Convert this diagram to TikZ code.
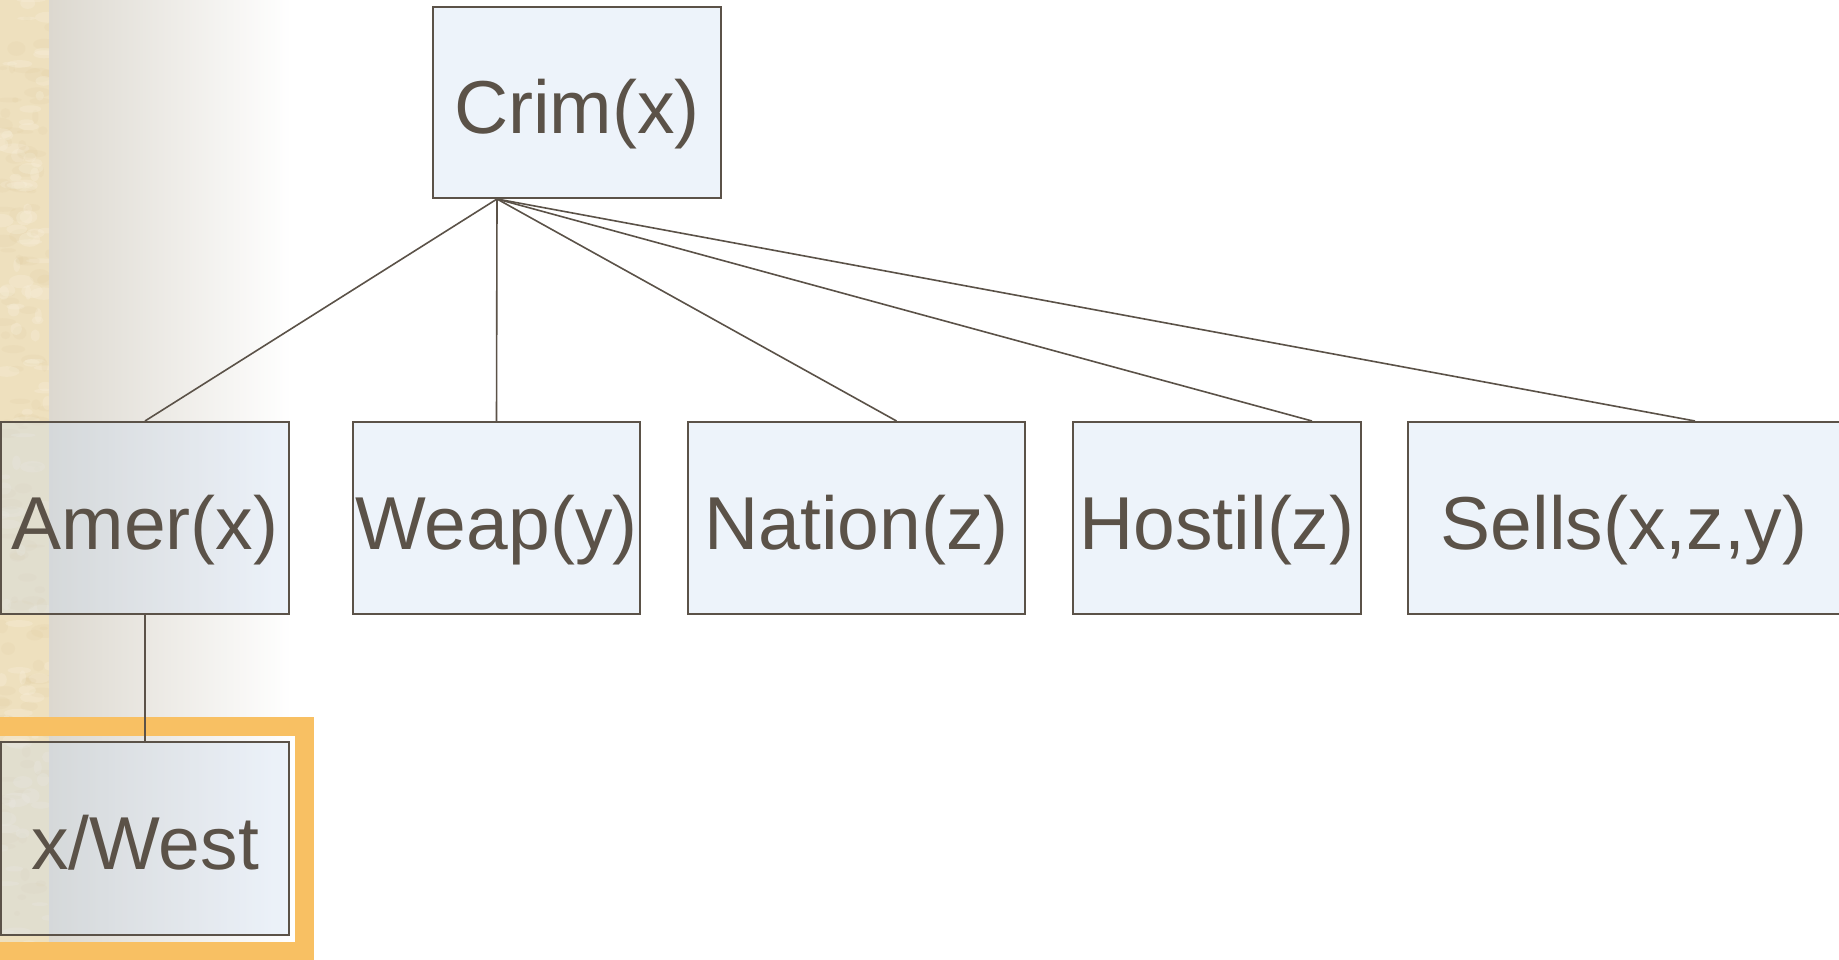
\documentclass[tikz,border=0pt]{standalone}
\usepackage{fontspec}
\setmainfont{Liberation Sans}
\usetikzlibrary{calc}
\definecolor{ink}{RGB}{91,82,72}
\definecolor{boxfill}{RGB}{200,218,242}
\definecolor{parch}{RGB}{238,224,190}
\definecolor{parchdark}{RGB}{220,198,150}
\definecolor{parchlight}{RGB}{248,240,220}
\definecolor{fadegrey}{RGB}{220,216,207}
\definecolor{framebar}{RGB}{248,192,99}
\tikzset{
  pred/.style={draw=ink, line width=2pt, fill=boxfill, fill opacity=0.32,
    text opacity=1, text=ink, font=\fontsize{75}{82}\selectfont,
    minimum height=192pt, inner sep=0pt, text height=62pt, text depth=0pt},
  link/.style={draw=ink, line width=1.6pt}
}
\begin{document}
\begin{tikzpicture}[x=1pt,y=-1pt]
  \useasboundingbox (0,0) rectangle (1839,960);
  % page backdrop: parchment strip and a grey fade into white
  \fill[white] (0,0) rectangle (1839,960);
  \shade[left color=fadegrey, right color=white] (49,0) rectangle (292,960);
  \fill[parch] (0,0) rectangle (49,960);
  \begin{scope}
    \clip (0,0) rectangle (49,960);
    \pgfmathsetseed{7}
    \foreach \i in {1,...,220}{
      \pgfmathsetmacro{\px}{rnd*49}
      \pgfmathsetmacro{\py}{rnd*960}
      \pgfmathsetmacro{\rx}{3+rnd*12}
      \pgfmathsetmacro{\ry}{1.5+rnd*6}
      \pgfmathsetmacro{\pick}{rnd}
      \ifdim\pick pt<0.5pt
        \fill[parchdark, opacity=0.12] (\px,\py) ellipse ({\rx} and {\ry});
      \else
        \fill[parchlight, opacity=0.3] (\px,\py) ellipse ({\rx} and {\ry});
      \fi
    }
  \end{scope}

  % highlight frame around the substitution
  \draw[framebar, line width=19pt] (-20,726.5) rectangle (304.5,951.5);

  % predicate boxes
  \node[pred, minimum width=288pt, minimum height=191pt] (crim) at (577,102.5) {Crim(x)};
  \node[pred, minimum width=288pt] (amer)   at (145,518)   {Amer(x)};
  \node[pred, minimum width=287pt] (weap)   at (496.5,518) {Weap(y)};
  \node[pred, minimum width=337pt] (nation) at (856.5,518) {Nation(z)};
  \node[pred, minimum width=288pt] (hostil) at (1217,518)  {Hostil(z)};
  \node[pred, minimum width=432pt] (sells)  at (1624,518)  {Sells(x,z,y)};
  \node[pred, minimum width=288pt, minimum height=193pt] (west) at (145,838.5) {x/West};

  % connectors
  \coordinate (root) at ($(crim.south)+(-80,0)$);
  \draw[link] (root) -- (amer.north);
  \draw[link] (root) -- (weap.north);
  \draw[link] (root) -- ($(nation.north)+(40,0)$);
  \draw[link] (root) -- ($(hostil.north)+(95,0)$);
  \draw[link] (root) -- ($(sells.north)+(71,0)$);
  \draw[link] (amer.south) -- (west.north);
\end{tikzpicture}
\end{document}
